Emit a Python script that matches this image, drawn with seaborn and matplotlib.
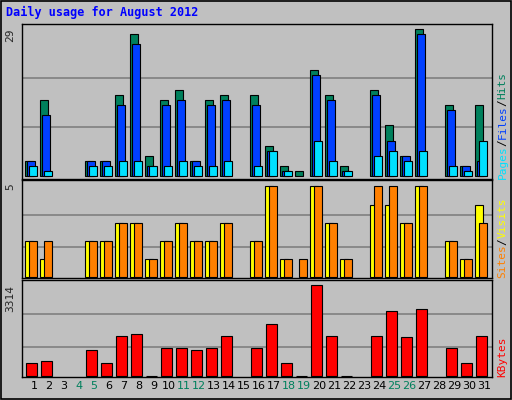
import matplotlib
matplotlib.use("Agg")
import matplotlib.pyplot as plt
import seaborn as sns
import numpy as np

days = list(range(1, 32))
hits = [3, 15, 0, 0, 3, 3, 16, 28, 4, 15, 17, 3, 15, 16, 0, 16, 6, 2, 1, 21, 16, 2, 0, 17, 10, 4, 29, 0, 14, 2, 14]
files = [3, 12, 0, 0, 3, 3, 14, 26, 2, 14, 15, 3, 14, 15, 0, 14, 5, 1, 0, 20, 15, 1, 0, 16, 7, 4, 28, 0, 13, 2, 3]
pages = [2, 1, 0, 0, 2, 2, 3, 3, 2, 2, 3, 2, 2, 3, 0, 2, 5, 1, 0, 7, 3, 1, 0, 4, 5, 3, 5, 0, 2, 1, 7]
visits = [2, 1, 0, 0, 2, 2, 3, 3, 1, 2, 3, 2, 2, 3, 0, 2, 5, 1, 0, 5, 3, 1, 0, 4, 4, 3, 5, 0, 2, 1, 4]
sites = [2, 2, 0, 0, 2, 2, 3, 3, 1, 2, 3, 2, 2, 3, 0, 2, 5, 1, 1, 5, 3, 1, 0, 5, 5, 3, 5, 0, 2, 1, 3]
kbytes = [484, 556, 0, 0, 955, 484, 1463, 1536, 20, 1028, 1028, 955, 1028, 1463, 0, 1028,
          1899, 484, 20, 3314, 1463, 20, 0, 1463, 2370, 1427, 2443, 0, 1028, 484, 1463]
weekend = [4, 5, 11, 12, 18, 19, 25, 26]

sns.set_style("white")
plt.rcParams['font.family'] = ['DejaVu Sans Mono']

BG = "#c0c0c0"
fig = plt.figure(figsize=(5.12, 4.0), dpi=100, facecolor=BG)
x = np.array(days, dtype=float)


def panel(rect, ylim, grid):
    ax = fig.add_axes(rect, facecolor=BG)
    ax.set_xlim(0.2, 31.53)
    ax.set_ylim(*ylim)
    ax.set_xticks([])
    ax.set_yticks(grid)
    ax.set_yticklabels([])
    ax.tick_params(length=0)
    ax.grid(axis="y", color="#808080", lw=1.2)
    ax.set_axisbelow(True)
    for s in ax.spines.values():
        s.set_color("black")
        s.set_linewidth(1)
    return ax


def bars(ax, vals, off, w, color):
    v = np.array(vals, dtype=float)
    m = v > 0
    ax.bar(x[m] + off, v[m], width=w, align="edge", color=color, edgecolor="black", linewidth=0.8)


ax1 = panel([0.043, 0.5525, 0.918, 0.3875], (-0.6, 30.0), [29 / 3, 58 / 3])
bars(ax1, hits, -0.6, 0.53, "#00805c")
bars(ax1, files, -0.47, 0.53, "#0040ff")
bars(ax1, pages, -0.33, 0.53, "#00e0ff")

ax2 = panel([0.043, 0.305, 0.918, 0.245], (-0.05, 5.35), [1.64, 3.43])
bars(ax2, visits, -0.6, 0.53, "#ffff00")
bars(ax2, sites, -0.33, 0.53, "#ff8000")

ax3 = panel([0.043, 0.0575, 0.918, 0.2425], (-20, 3480), [1076, 2262])
bars(ax3, kbytes, -0.53, 0.73, "#ff0000")

fs = 8
ax1.text(-0.015, 0.97, "29", transform=ax1.transAxes, rotation=90, ha="right", va="top", fontsize=fs)
ax2.text(-0.015, 0.97, "5", transform=ax2.transAxes, rotation=90, ha="right", va="top", fontsize=fs)
ax3.text(-0.015, 0.95, "3314", transform=ax3.transAxes, rotation=90, ha="right", va="top", fontsize=fs)

for d in days:
    ax3.text(d, -0.04, str(d), transform=ax3.get_xaxis_transform(), ha="center", va="top",
             fontsize=fs, family="DejaVu Sans",
             color="#00805c" if d in weekend else "black")


def side_label(ax, parts, y0):
    y = y0
    for txt, col in parts:
        t = ax.text(1.012, y, txt, transform=ax.transAxes, rotation=90, ha="left", va="bottom",
                    fontsize=fs, color=col)
        y += len(txt) * 0.6 * fs / (ax.get_position().height * 400 * 0.72)


side_label(ax1, [("Pages", "#00e0ff"), ("/", "black"), ("Files", "#0040ff"), ("/", "black"), ("Hits", "#00805c")], 0.0)
side_label(ax2, [("Sites", "#ff8000"), ("/", "black"), ("Visits", "#ffff00")], 0.0)
side_label(ax3, [("KBytes", "#ff0000")], 0.0)

fig.text(0.012, 0.985, "Daily usage for August 2012", color="#0000ff", fontsize=8.5,
         fontweight="bold", ha="left", va="top")

fig.patches.append(plt.Rectangle((0.002, 0.003), 0.996, 0.994, transform=fig.transFigure,
                                 fill=False, edgecolor="black", lw=1.2))

fig.savefig("out.png", dpi=100, facecolor=BG)
